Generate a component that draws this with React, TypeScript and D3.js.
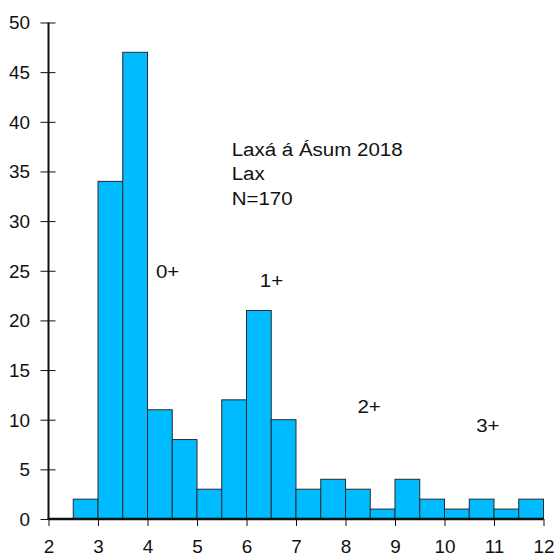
import React, { useRef, useEffect } from 'react';
import * as d3 from 'd3';

// bin starts (cm) and counts
const binStarts = [2.5, 3, 3.5, 4, 4.5, 5, 5.5, 6, 6.5, 7, 7.5, 8, 8.5, 9, 9.5, 10, 10.5, 11, 11.5];
const counts = [2, 34, 47, 11, 8, 3, 12, 21, 10, 3, 4, 3, 1, 4, 2, 1, 2, 1, 2];
const xTicks = [2, 3, 4, 5, 6, 7, 8, 9, 10, 11, 12];
const yTicks = [0, 5, 10, 15, 20, 25, 30, 35, 40, 45, 50];
const titleLines = ['Laxá á Ásum 2018', 'Lax', 'N=170'];
const ageLabels = ['0+', '1+', '2+', '3+'];
const ageX = [4.17, 6.27, 8.24, 10.64];
const ageY = [24.27, 23.36, 10.67, 8.76];

function App() {
  const svgRef = useRef(null);

  useEffect(() => {
    const w = 557;
    const h = 554;
    const svg = d3.select(svgRef.current).attr('width', w).attr('height', h);
    svg.selectAll('*').remove();

    const xScale = d3.scaleLinear().domain([2, 12]).range([48.5, 543.5]);
    const yScale = d3.scaleLinear().domain([0, 50]).range([519, 22.5]);
    const binW = 0.5;
    const sx = 1.08; // text in the original is a bit wide

    //bars
    svg
      .append('g')
      .selectAll('rect')
      .data(counts)
      .join('rect')
      .attr('x', (d, i) => xScale(binStarts[i]))
      .attr('y', (d) => yScale(d))
      .attr('width', (d, i) => xScale(binStarts[i] + binW) - xScale(binStarts[i]))
      .attr('height', (d) => yScale(0) - yScale(d))
      .attr('fill', '#00BBFF')
      .attr('stroke', '#2a2a2a')
      .attr('stroke-width', 1);

    const font = 'Arial, "Liberation Sans", sans-serif';

    //y axis
    const yAxis = d3
      .axisLeft(yScale)
      .tickValues(yTicks)
      .tickSize(0)
      .tickPadding(0)
      .tickFormat((d: any) => String(d));
    const gy = svg.append('g').attr('transform', `translate(${xScale(2)},0)`).call(yAxis);
    gy.select('.domain').remove();
    gy.selectAll('.tick text')
      .attr('x', 0)
      .attr('dy', '0.36em')
      .attr('transform', `translate(-18.5,0) scale(${sx},1)`)
      .style('font-family', font)
      .style('font-size', '17.5px')
      .attr('fill', '#111');
    gy.selectAll('.tick')
      .append('line')
      .attr('x1', -8)
      .attr('x2', 7)
      .attr('stroke', '#111')
      .attr('stroke-width', 1);
    svg
      .append('line')
      .attr('x1', xScale(2))
      .attr('x2', xScale(2))
      .attr('y1', yScale(50))
      .attr('y2', yScale(0) + 1)
      .attr('stroke', '#111')
      .attr('stroke-width', 2);

    //x axis
    const xAxis = d3
      .axisBottom(xScale)
      .tickValues(xTicks)
      .tickSize(7)
      .tickPadding(15)
      .tickFormat((d: any) => String(d));
    const gx = svg.append('g').attr('transform', `translate(0,${yScale(0)})`).call(xAxis);
    gx.select('.domain').remove();
    gx.selectAll('.tick line').attr('stroke', '#111');
    gx.selectAll('.tick text')
      .attr('transform', `scale(${sx},1)`)
      .style('font-family', font)
      .style('font-size', '17.5px')
      .attr('fill', '#111');
    svg
      .append('line')
      .attr('x1', xScale(2) - 1)
      .attr('x2', xScale(12))
      .attr('y1', yScale(0))
      .attr('y2', yScale(0))
      .attr('stroke', '#111')
      .attr('stroke-width', 2.5);

    //title block
    svg
      .append('g')
      .selectAll('text')
      .data(titleLines)
      .join('text')
      .attr('transform', (d, i) => `translate(${xScale(5.7)},${yScale(36.59) + i * 24.6}) scale(${sx},1)`)
      .text((d) => d)
      .style('font-family', font)
      .style('font-size', '19px')
      .attr('fill', '#111');

    //age group labels
    svg
      .append('g')
      .selectAll('text')
      .data(ageLabels)
      .join('text')
      .attr('transform', (d, i) => `translate(${xScale(ageX[i])},${yScale(ageY[i])}) scale(${sx},1)`)
      .text((d) => d)
      .style('font-family', font)
      .style('font-size', '19px')
      .attr('fill', '#111');
  }, []);

  return (
    <div style={{ position: 'absolute', left: 0, top: 0, background: '#fff' }}>
      <svg ref={svgRef} style={{ display: 'block' }}></svg>
    </div>
  );
}

export default App;
